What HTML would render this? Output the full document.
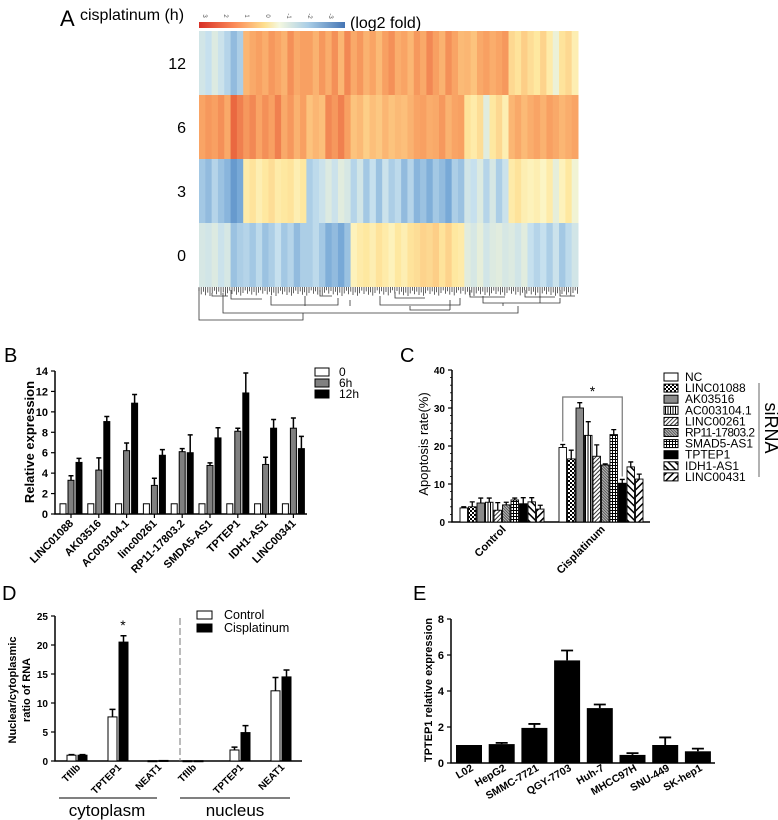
<!DOCTYPE html>
<html><head><meta charset="utf-8"><style>
html,body{margin:0;padding:0;background:#fff;}
svg{display:block;font-family:"Liberation Sans",Arial,sans-serif;}
</style></head><body>
<svg id="fig" width="778" height="820" viewBox="0 0 778 820" xmlns="http://www.w3.org/2000/svg">
<defs>
<pattern id="p-check" width="4" height="4" patternUnits="userSpaceOnUse"><rect width="4" height="4" fill="#fff"/><rect width="2" height="2" fill="#000"/><rect x="2" y="2" width="2" height="2" fill="#000"/></pattern>
<pattern id="p-vert" width="2.5" height="4" patternUnits="userSpaceOnUse"><rect width="2.5" height="4" fill="#fff"/><rect width="1" height="4" fill="#000"/></pattern>
<pattern id="p-diag" width="3" height="3" patternUnits="userSpaceOnUse" patternTransform="rotate(45)"><rect width="3" height="3" fill="#fff"/><rect width="1" height="3" fill="#333"/></pattern>
<pattern id="p-diag2" width="2" height="2" patternUnits="userSpaceOnUse" patternTransform="rotate(-45)"><rect width="2" height="2" fill="#bbb"/><rect width="1" height="2" fill="#555"/></pattern>
<pattern id="p-grid" width="3" height="3" patternUnits="userSpaceOnUse"><rect width="3" height="3" fill="#fff"/><rect width="1" height="3" fill="#000"/><rect width="3" height="1" fill="#000"/></pattern>
<pattern id="p-bdiag" width="5" height="5" patternUnits="userSpaceOnUse" patternTransform="rotate(-45)"><rect width="5" height="5" fill="#fff"/><rect width="1.5" height="5" fill="#000"/></pattern>
<pattern id="p-fdiag" width="5" height="5" patternUnits="userSpaceOnUse" patternTransform="rotate(45)"><rect width="5" height="5" fill="#fff"/><rect width="1.5" height="5" fill="#000"/></pattern>
<linearGradient id="cbar" x1="0" x2="1"><stop offset="0" stop-color="#d73027"/><stop offset="0.25" stop-color="#fc8d59"/><stop offset="0.45" stop-color="#fee090"/><stop offset="0.55" stop-color="#f4f8e0"/><stop offset="0.75" stop-color="#a9cde6"/><stop offset="1" stop-color="#4575b4"/></linearGradient>
</defs>
<g id="gA"></g>
<g id="gB"></g>
<g id="gC"></g>
<g id="gD"></g>
<g id="gE"></g>
</svg>
<script>
// ---------- Panel A data ----------
const heatRowLabels = ["12","6","3","0"];
const heat12 = [-0.8,-1,-0.6,-0.9,-1.2,-1.6,-1.3,1.5,1.8,2,1.7,2.1,1.9,1.6,2.2,1.8,2,2,1.6,2.1,1.7,2.2,1.5,2.3,1.8,2.1,1.6,1.9,1.4,2,2.2,1.7,1.9,1.5,2.1,1.8,2.3,2,1.6,2.2,1.9,1.4,1.5,1.2,1.8,2,1.7,1.9,2.1,0.8,0.6,1,0.7,0.5,0.9,0.4,-0.3,0.6,0.8,0.3];
const heat6 = [1.9,2.1,2,2.2,1.8,2.7,2.4,2.1,2.3,1.9,2.2,2,2.4,1.8,2.1,1.6,2,1.2,1.5,1.3,2.3,2.1,2.4,2,1.2,1.4,1,1.3,1.1,1.5,1.2,1.4,1.3,1.6,1.9,2,1.7,1.8,2.1,1.6,1.9,2,0.6,0.4,0.7,-0.5,0.5,0.8,0.3,1.5,1.8,1.4,1.7,1.9,1.6,2,1.8,1.5,1.7,1.9];
const heat3 = [-1.4,-1.6,-1.2,-1.5,-1.7,-2.2,-1.9,0.4,0.6,0.3,0.5,0.7,0.4,0.5,0.6,0.3,0.5,-1.3,-1.1,-0.9,-0.6,-0.9,-0.5,-0.7,-1.2,-0.8,-1.4,-1,-1.5,-0.9,-1.3,-1.1,-1.6,-1.2,-1.7,-1.5,-1.8,-1.4,-1.6,-1.9,-1.3,-1.5,-0.8,-1,-0.6,-1.2,-0.7,-1.3,-0.9,0.4,0.6,0.3,0.2,0.3,0.1,0.4,-0.4,0.2,0.5,-0.2];
const heat0 = [-0.7,-0.8,-0.6,-0.9,-0.7,-1.5,-1.3,-1.2,-1.4,-1.1,-1.5,-1.3,-1,-1.4,-1.2,-1.6,-1.3,-1.3,-1.1,-1.4,-1.8,-1.6,-1.9,-1.5,0.2,0.4,0.5,0.3,0.6,0.4,0.2,0.5,0.3,0.6,0.7,0.9,0.8,1,0.6,0.9,0.5,0.4,-0.5,-0.7,-0.4,-0.8,-0.6,-0.5,-0.7,-0.6,-0.8,-0.5,-1,-1.2,-1,-1.3,-0.9,-1.4,-1.1,-0.8];
const colorTicks = ["3","2","1","0","-1","-2","-3"];
// ---------- Panel B data ----------
const bCats = ["LINC01088","AK03516","AC003104.1","linc00261","RP11-17803.2","SMDA5-AS1","TPTEP1","IDH1-AS1","LINC00341"];
const b0 = [1,1,1,1,1,1,1,1,1];
const b6 = [3.3,4.3,6.2,2.8,6.1,4.75,8.1,4.85,8.4];
const b6err = [0.45,1.2,0.75,0.7,0.3,0.25,0.3,0.7,1.0];
const b12 = [5.05,9.05,10.85,5.75,6.0,7.45,11.85,8.4,6.4];
const b12err = [0.4,0.5,0.85,0.55,1.75,1.0,1.95,0.85,1.2];
const bTicks = [0,2,4,6,8,10,12,14];
// ---------- Panel C data ----------
const cGroups = ["Control","Cisplatinum"];
const cSeries = ["NC","LINC01088","AK03516","AC003104.1","LINC00261","RP11-17803.2","SMAD5-AS1","TPTEP1","IDH1-AS1","LINC00431"];
const cControl = [3.7,4,5,5.2,3.1,4.5,5.8,4.8,5.3,3.4];
const cControlErr = [0.3,1.3,1.3,1.1,2,0.7,0.5,1.6,1.1,1];
const cCis = [19.6,16.6,30,22.8,17.3,15,23,10.2,14.5,11.3];
const cCisErr = [0.8,2.3,1.4,3.6,3,0.3,1.3,1,1.3,1.3];
const cTicks = [0,10,20,30,40];
// ---------- Panel D data ----------
const dCats = ["Tfllb","TPTEP1","NEAT1","Tfllb","TPTEP1","NEAT1"];
const dControl = [1,7.6,0.05,0.05,1.9,12.1];
const dControlErr = [0.1,1.3,0,0,0.5,2.3];
const dCis = [1,20.5,0.1,0.05,4.9,14.5];
const dCisErr = [0.1,1.1,0,0,1.2,1.2];
const dTicks = [0,5,10,15,20,25];
// ---------- Panel E data ----------
const eCats = ["L02","HepG2","SMMC-7721","QGY-7703","Huh-7","MHCC97H","SNU-449","SK-hep1"];
const eVals = [1,1.05,1.95,5.7,3.05,0.45,1.0,0.65];
const eErr = [0,0.07,0.22,0.55,0.2,0.1,0.42,0.15];
const eTicks = [0,2,4,6,8];

const NS="http://www.w3.org/2000/svg";
function mk(parent,tag,attrs,name,txt){
  const e=document.createElementNS(NS,tag);
  for(const k in attrs) e.setAttribute(k,attrs[k]);
  
  
  if(txt!==undefined) e.textContent=txt;
  parent.appendChild(e);
  return e;
}
function lin(d0,d1,r0,r1){return v=>r0+(v-d0)/(d1-d0)*(r1-r0);}

// ---------- Panel A ----------
(function(){
  const g=document.getElementById('gA');
  mk(g,'text',{x:60,y:26,'font-size':22},'panel-label-a','A');
  mk(g,'text',{x:80,y:20,'font-size':16},'heatmap-y-title','cisplatinum (h)');
  mk(g,'rect',{x:199,y:22,width:146,height:6,fill:'url(#cbar)'},'color-scale-bar');
  colorTicks.forEach((t,i)=>{mk(g,'text',{x:205+i*21,y:18,'font-size':6,fill:'#555','text-anchor':'middle',transform:`rotate(90 ${205+i*21} 16)`},'color-scale-tick',t);});
  mk(g,'text',{x:350,y:28,'font-size':16},'color-scale-title','(log2 fold)');
  const stops=[[-3,[69,117,180]],[-2,[111,163,212]],[-1,[198,224,238]],[0,[252,248,205]],[0.5,[254,232,160]],[1.2,[252,195,125]],[2,[248,160,98]],[3,[228,80,50]]];
  function col(v){v=Math.max(-3,Math.min(3,v));for(let i=0;i<stops.length-1;i++){const[a,ca]=stops[i],[b,cb]=stops[i+1];if(v<=b){const t=(v-a)/(b-a);return `rgb(${ca.map((c,j)=>Math.round(c+(cb[j]-c)*t)).join(',')})`;}}return 'rgb(228,80,50)';}
  const rows=[heat12,heat6,heat3,heat0];
  const x0=199,x1=578,y0=31,rh=64;
  rows.forEach((r,ri)=>{
    const w=(x1-x0)/r.length;
    r.forEach((v,ci)=>{mk(g,'rect',{x:x0+ci*w,y:y0+ri*rh,width:w+0.5,height:rh,fill:col(v)},'heatmap-cell');});
    mk(g,'text',{x:186,y:y0+ri*rh+rh/2+6,'font-size':16,'text-anchor':'end'},'heatmap-row-label',heatRowLabels[ri]);
  });
  let d='';
  for(let x=199;x<578;x+=2.2){d+=`M${x},287V${290+((x*7)%6)}`;}
  mk(g,'path',{d:d,stroke:'#222','stroke-width':0.7,fill:'none'},'dendrogram-leaves');
  const links='M199,288V320H303V313M223,293V313H518V306M271,296V305H338V298M305,296V306M380,296V305H460V298M350,300V306M410,306V310H450M450,300V310M483,296V303H560V298M503,303V306M540,296V303M212,293V296H228M231,290V299H262M320,290V296H332M395,292V298H425M470,290V297H505M525,290V297H555M560,290V296H575';
  mk(g,'path',{d:links,stroke:'#333','stroke-width':0.8,fill:'none'},'dendrogram-links');
})();

// ---------- Panel B ----------
(function(){
  const g=document.getElementById('gB');
  mk(g,'text',{x:4,y:362,'font-size':20},'panel-label-b','B');
  const X0=55,X1=307,Y=lin(0,14,514,371);
  mk(g,'path',{d:`M${X0},371V514H${X1}`,stroke:'#000','stroke-width':1.5,fill:'none'},'b-axes');
  bTicks.forEach(t=>{mk(g,'line',{x1:X0-4,x2:X0,y1:Y(t),y2:Y(t),stroke:'#000','stroke-width':1.2},'b-y-tick');
    mk(g,'text',{x:X0-7,y:Y(t)+4,'font-size':11,'font-weight':'bold','text-anchor':'end'},'b-y-tick-label',t);});
  mk(g,'text',{x:0,y:0,'font-size':13,'font-weight':'bold','text-anchor':'middle',transform:'translate(34 442) rotate(-90)'},'b-y-axis-title','Relative expression');
  const step=27.8,c0=71,bw=6;
  const series=[[b0,null,'#fff',-8],[b6,b6err,'#808080',0],[b12,b12err,'#000',8]];
  bCats.forEach((c,i)=>{
    const cx=c0+i*step;
    series.forEach(([vals,errs,fill,off])=>{
      const x=cx+off-bw/2,v=vals[i];
      if(errs){mk(g,'path',{d:`M${cx+off},${Y(v)}V${Y(v+errs[i])}M${cx+off-2.5},${Y(v+errs[i])}H${cx+off+2.5}`,stroke:'#000','stroke-width':1.5},'b-error-bar');}
      mk(g,'rect',{x:x,y:Y(v),width:bw,height:Y(0)-Y(v),fill:fill,stroke:'#000','stroke-width':1},'b-bar');
    });
    mk(g,'line',{x1:cx,x2:cx,y1:514,y2:518,stroke:'#000','stroke-width':1.2},'b-x-tick');
    mk(g,'text',{x:0,y:0,'font-size':11,'font-weight':'bold','text-anchor':'end',transform:`translate(${cx+3} 524) rotate(-45)`},'b-x-tick-label',c);
  });
  const leg=[['0','#fff'],['6h','#808080'],['12h','#000']];
  leg.forEach(([t,f],i)=>{mk(g,'rect',{x:315,y:368+i*11,width:14,height:8,fill:f,stroke:'#000','stroke-width':1},'b-legend-swatch');
    mk(g,'text',{x:339,y:376+i*11,'font-size':12},'b-legend-label',t);});
})();

// ---------- Panel C ----------
(function(){
  const g=document.getElementById('gC');
  mk(g,'text',{x:400,y:362,'font-size':20},'panel-label-c','C');
  const X0=452,X1=650,Y=lin(0,40,522,370);
  mk(g,'path',{d:`M${X0},370V522H${X1}`,stroke:'#000','stroke-width':1.5,fill:'none'},'c-axes');
  cTicks.forEach(t=>{mk(g,'line',{x1:X0-4,x2:X0,y1:Y(t),y2:Y(t),stroke:'#000','stroke-width':1.2},'c-y-tick');
    mk(g,'text',{x:X0-7,y:Y(t)+4,'font-size':10,'font-weight':'bold','text-anchor':'end'},'c-y-tick-label',t);});
  for(let t=2;t<40;t+=2){if(t%10) mk(g,'line',{x1:X0-2,x2:X0,y1:Y(t),y2:Y(t),stroke:'#000','stroke-width':0.8},'c-y-minor-tick');}
  mk(g,'text',{x:0,y:0,'font-size':13,'text-anchor':'middle',transform:'translate(428 444) rotate(-90)'},'c-y-axis-title','Apoptosis rate(%)');
  const fills=['#fff','url(#p-check)','#8a8a8a','url(#p-vert)','url(#p-diag)','url(#p-diag2)','url(#p-grid)','#000','url(#p-bdiag)','url(#p-fdiag)'];
  const starts=[460,559],step=8.5,bw=7.5;
  [[cControl,cControlErr],[cCis,cCisErr]].forEach(([vals,errs],gi)=>{
    vals.forEach((v,i)=>{
      const x=starts[gi]+i*step,cx=x+bw/2;
      mk(g,'path',{d:`M${cx},${Y(v)}V${Y(v+errs[i])}M${cx-2.5},${Y(v+errs[i])}H${cx+2.5}`,stroke:'#000','stroke-width':1.3},'c-error-bar');
      mk(g,'rect',{x:x,y:Y(v),width:bw,height:Y(0)-Y(v),fill:fills[i],stroke:'#000','stroke-width':0.9},'c-bar');
    });
    const gc=starts[gi]+5*step;
    mk(g,'text',{x:0,y:0,'font-size':11,'font-weight':'bold','text-anchor':'end',transform:`translate(${gc+4} 530) rotate(-45)`},'c-x-tick-label',cGroups[gi]);
  });
  const bx1=starts[1]+bw/2,bx2=starts[1]+7*step+bw/2;
  mk(g,'path',{d:`M${bx1},${Y(cCis[0]+cCisErr[0])-3}V397H${bx2}V${Y(cCis[7]+cCisErr[7])-3}`,stroke:'#777','stroke-width':1.2,fill:'none'},'c-significance-bracket');
  mk(g,'text',{x:(bx1+bx2)/2,y:396,'font-size':14,'text-anchor':'middle'},'c-significance-star','*');
  cSeries.forEach((s,i)=>{mk(g,'rect',{x:664,y:373+i*11.1,width:14,height:8,fill:fills[i],stroke:'#000','stroke-width':1},'c-legend-swatch');
    mk(g,'text',{x:685,y:381+i*11.1,'font-size':12,textLength:s.length>10?70:undefined},'c-legend-label',s);});
  mk(g,'line',{x1:759,x2:759,y1:383,y2:477,stroke:'#888','stroke-width':1.3},'c-sirna-line');
  mk(g,'text',{x:0,y:0,'font-size':18,'text-anchor':'middle',transform:'translate(765 428) rotate(90)'},'c-sirna-label','siRNA');
})();

// ---------- Panel D ----------
(function(){
  const g=document.getElementById('gD');
  mk(g,'text',{x:2,y:600,'font-size':20},'panel-label-d','D');
  const X0=55,X1=302,Y=lin(0,25,761,616);
  mk(g,'path',{d:`M${X0},616V761H${X1}`,stroke:'#000','stroke-width':1.5,fill:'none'},'d-axes');
  dTicks.forEach(t=>{mk(g,'line',{x1:X0-4,x2:X0,y1:Y(t),y2:Y(t),stroke:'#000','stroke-width':1.2},'d-y-tick');
    mk(g,'text',{x:X0-7,y:Y(t)+4,'font-size':10,'font-weight':'bold','text-anchor':'end'},'d-y-tick-label',t);});
  mk(g,'text',{x:0,y:0,'font-size':11,'font-weight':'bold','text-anchor':'middle',transform:'translate(16 690) rotate(-90)'},'d-y-axis-title','Nuclear/cytoplasmic');
  mk(g,'text',{x:0,y:0,'font-size':11,'font-weight':'bold','text-anchor':'middle',transform:'translate(30 690) rotate(-90)'},'d-y-axis-title-2','ratio of RNA');
  const centers=[77,118,158,193,240,281],bw=9;
  dCats.forEach((c,i)=>{
    [[dControl,dControlErr,'#fff',-5.5],[dCis,dCisErr,'#000',5.5]].forEach(([vals,errs,fill,off])=>{
      const cx=centers[i]+off,v=vals[i];
      if(errs[i]>0) mk(g,'path',{d:`M${cx},${Y(v)}V${Y(v+errs[i])}M${cx-3},${Y(v+errs[i])}H${cx+3}`,stroke:'#000','stroke-width':1.5},'d-error-bar');
      mk(g,'rect',{x:cx-bw/2,y:Y(v),width:bw,height:Math.max(1,Y(0)-Y(v)),fill:fill,stroke:'#000','stroke-width':1},'d-bar');
    });
    mk(g,'text',{x:0,y:0,'font-size':10,'font-weight':'bold','text-anchor':'end',transform:`translate(${centers[i]+4} 768) rotate(-45)`},'d-x-tick-label',c);
  });
  mk(g,'text',{x:123,y:630,'font-size':14,'text-anchor':'middle'},'d-significance-star','*');
  mk(g,'line',{x1:180,x2:180,y1:618,y2:761,stroke:'#777','stroke-width':1,'stroke-dasharray':'7,3'},'d-divider');
  mk(g,'rect',{x:197,y:611,width:15,height:8,fill:'#fff',stroke:'#000','stroke-width':1},'d-legend-swatch');
  mk(g,'text',{x:224,y:619,'font-size':12.5},'d-legend-label','Control');
  mk(g,'rect',{x:197,y:624,width:15,height:8,fill:'#000',stroke:'#000','stroke-width':1},'d-legend-swatch');
  mk(g,'text',{x:224,y:632,'font-size':12.5},'d-legend-label','Cisplatinum');
  mk(g,'line',{x1:59,x2:157,y1:798,y2:798,stroke:'#000','stroke-width':1},'d-cytoplasm-line');
  mk(g,'line',{x1:180,x2:290,y1:798,y2:798,stroke:'#000','stroke-width':1},'d-nucleus-line');
  mk(g,'text',{x:107,y:816,'font-size':17,'text-anchor':'middle'},'d-cytoplasm-label','cytoplasm');
  mk(g,'text',{x:235,y:816,'font-size':17,'text-anchor':'middle'},'d-nucleus-label','nucleus');
})();

// ---------- Panel E ----------
(function(){
  const g=document.getElementById('gE');
  mk(g,'text',{x:413,y:600,'font-size':20},'panel-label-e','E');
  const X0=451,X1=715,Y=lin(0,8,763,619);
  mk(g,'path',{d:`M${X0},619V763H${X1}`,stroke:'#000','stroke-width':1.5,fill:'none'},'e-axes');
  eTicks.forEach(t=>{mk(g,'line',{x1:X0-4,x2:X0,y1:Y(t),y2:Y(t),stroke:'#000','stroke-width':1.2},'e-y-tick');
    mk(g,'text',{x:X0-7,y:Y(t)+4,'font-size':11,'font-weight':'bold','text-anchor':'end'},'e-y-tick-label',t);});
  mk(g,'text',{x:0,y:0,'font-size':11,'font-weight':'bold','text-anchor':'middle',transform:'translate(432 690) rotate(-90)'},'e-y-axis-title','TPTEP1 relative expression');
  const c0=469,step=32.7,bw=26;
  eCats.forEach((c,i)=>{
    const cx=c0+i*step,v=eVals[i];
    if(eErr[i]>0) mk(g,'path',{d:`M${cx},${Y(v)}V${Y(v+eErr[i])}M${cx-6},${Y(v+eErr[i])}H${cx+6}`,stroke:'#000','stroke-width':1.8},'e-error-bar');
    mk(g,'rect',{x:cx-bw/2,y:Y(v),width:bw,height:Y(0)-Y(v),fill:'#000'},'e-bar');
    mk(g,'text',{x:0,y:0,'font-size':10.5,'font-weight':'bold','text-anchor':'end',transform:`translate(${cx+5} 770) rotate(-30)`},'e-x-tick-label',c);
  });
})();
</script>
</body></html>
